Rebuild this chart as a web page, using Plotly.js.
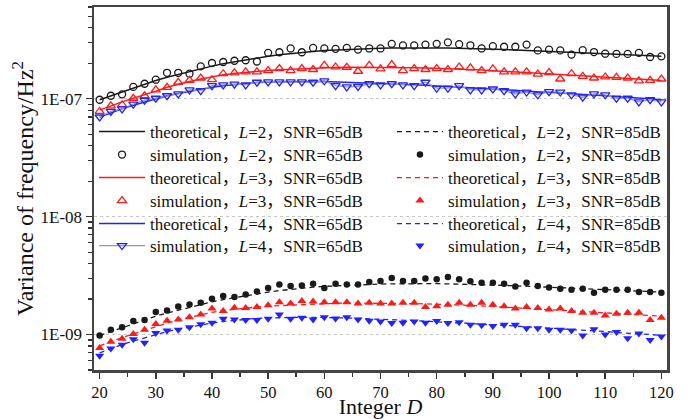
<!DOCTYPE html>
<html>
<head>
<meta charset="utf-8">
<script src="https://cdn.plot.ly/plotly-3.0.1.min.js"></script>
<style>html,body{margin:0;padding:0;background:#fff;}#chart{width:694px;height:419px;}</style>
</head>
<body>
<div id="chart"></div>
<script>
// Integer D values
const D = [20,22,24,26,28,30,32,34,36,38,40,42,44,46,48,50,52,54,56,58,60,62,64,66,68,70,72,74,76,78,80,82,84,86,88,90,92,94,96,98,100,102,104,106,108,110,112,114,116,118,120];

// SNR = 65 dB, values in units of 1E-07
const theoL2_65 = [0.98,1.06,1.14,1.23,1.33,1.43,1.52,1.61,1.70,1.80,1.89,1.98,2.06,2.14,2.22,2.29,2.36,2.42,2.47,2.52,2.56,2.59,2.62,2.64,2.66,2.68,2.69,2.70,2.70,2.70,2.70,2.69,2.68,2.67,2.65,2.63,2.61,2.59,2.57,2.55,2.52,2.50,2.48,2.45,2.43,2.41,2.38,2.36,2.34,2.31,2.29];
const simL2_65  = [0.98,1.06,1.09,1.26,1.34,1.45,1.66,1.66,1.63,1.88,2.01,2.05,2.10,2.12,2.07,2.45,2.48,2.67,2.48,2.70,2.67,2.65,2.70,2.61,2.67,2.67,2.92,2.83,2.83,2.88,2.92,3.01,2.90,2.84,2.67,2.79,2.76,2.76,2.88,2.57,2.61,2.57,2.37,2.58,2.49,2.41,2.40,2.40,2.45,2.26,2.29];
const theoL3_65 = [0.80,0.87,0.94,1.01,1.09,1.16,1.25,1.33,1.40,1.47,1.54,1.60,1.64,1.68,1.71,1.74,1.76,1.78,1.80,1.82,1.83,1.84,1.85,1.85,1.85,1.85,1.84,1.84,1.83,1.82,1.81,1.80,1.78,1.77,1.75,1.73,1.71,1.69,1.67,1.65,1.63,1.61,1.59,1.57,1.55,1.53,1.51,1.49,1.47,1.45,1.43];
const simL3_65  = [0.78,0.87,0.89,1.01,1.06,1.19,1.25,1.38,1.43,1.50,1.45,1.63,1.66,1.69,1.69,1.73,1.80,1.73,1.80,1.77,1.92,1.86,1.85,1.71,1.92,1.79,1.95,1.73,1.80,1.77,1.80,1.77,1.86,1.83,1.73,1.79,1.69,1.69,1.69,1.62,1.67,1.47,1.63,1.55,1.50,1.53,1.52,1.50,1.42,1.43,1.47];
const theoL4_65 = [0.70,0.76,0.82,0.88,0.94,1.00,1.06,1.11,1.16,1.21,1.25,1.29,1.32,1.35,1.37,1.38,1.39,1.40,1.40,1.40,1.40,1.39,1.38,1.37,1.36,1.35,1.34,1.32,1.31,1.30,1.28,1.27,1.25,1.24,1.22,1.21,1.19,1.18,1.16,1.15,1.13,1.12,1.10,1.09,1.07,1.06,1.04,1.03,1.01,1.00,0.98];
const simL4_65  = [0.70,0.78,0.82,0.90,0.97,1.01,1.06,1.10,1.19,1.17,1.29,1.31,1.33,1.31,1.38,1.39,1.39,1.39,1.39,1.38,1.42,1.29,1.26,1.27,1.34,1.31,1.34,1.31,1.29,1.38,1.23,1.23,1.29,1.19,1.19,1.21,1.17,1.10,1.14,1.08,1.15,1.14,1.08,1.03,1.10,1.08,1.01,1.01,0.94,0.98,0.94];

// SNR = 85 dB, values in units of 1E-09
const theoL2_85 = [0.98,1.06,1.14,1.23,1.33,1.43,1.52,1.61,1.70,1.80,1.89,1.98,2.06,2.14,2.22,2.29,2.36,2.42,2.47,2.52,2.56,2.59,2.62,2.64,2.66,2.68,2.69,2.70,2.70,2.70,2.70,2.69,2.68,2.67,2.65,2.63,2.61,2.59,2.57,2.55,2.52,2.50,2.48,2.45,2.43,2.41,2.38,2.36,2.34,2.31,2.29];
const simL2_85  = [0.98,1.10,1.15,1.30,1.33,1.55,1.60,1.73,1.80,1.86,2.01,2.12,2.08,2.19,2.32,2.48,2.65,2.58,2.61,2.70,2.48,2.70,2.66,2.66,2.79,2.84,3.01,2.84,2.84,2.98,2.94,3.08,2.94,2.83,2.75,2.75,2.70,2.56,2.75,2.58,2.50,2.45,2.40,2.45,2.26,2.40,2.40,2.40,2.29,2.29,2.26];
const theoL3_85 = [0.80,0.87,0.94,1.01,1.09,1.16,1.25,1.33,1.40,1.47,1.54,1.60,1.64,1.68,1.71,1.74,1.76,1.78,1.80,1.82,1.83,1.84,1.85,1.85,1.85,1.85,1.84,1.84,1.83,1.82,1.81,1.80,1.78,1.77,1.75,1.73,1.71,1.69,1.67,1.65,1.63,1.61,1.59,1.57,1.55,1.53,1.51,1.49,1.47,1.45,1.43];
const simL3_85  = [0.77,0.87,0.92,1.01,1.10,1.23,1.31,1.34,1.40,1.48,1.66,1.58,1.69,1.68,1.71,1.77,1.88,1.83,1.92,1.91,1.88,1.88,1.88,1.83,1.86,1.83,1.83,1.86,1.86,1.71,1.74,1.79,1.86,1.79,1.86,1.79,1.74,1.66,1.71,1.68,1.63,1.66,1.58,1.53,1.53,1.45,1.50,1.53,1.53,1.33,1.39];
const theoL4_85 = [0.70,0.76,0.82,0.88,0.94,1.00,1.06,1.11,1.16,1.21,1.25,1.29,1.32,1.35,1.37,1.38,1.39,1.40,1.40,1.40,1.40,1.39,1.38,1.37,1.36,1.35,1.34,1.32,1.31,1.30,1.28,1.27,1.25,1.24,1.22,1.21,1.19,1.18,1.16,1.15,1.13,1.12,1.10,1.09,1.07,1.06,1.04,1.03,1.01,1.00,0.98];
const simL4_85  = [0.66,0.76,0.82,0.91,0.85,1.03,1.08,1.10,1.15,1.22,1.26,1.36,1.34,1.33,1.33,1.36,1.48,1.36,1.39,1.34,1.40,1.37,1.40,1.34,1.31,1.29,1.25,1.26,1.29,1.26,1.30,1.25,1.27,1.21,1.20,1.18,1.21,1.21,1.13,1.13,1.10,1.10,1.08,0.98,1.11,1.00,1.05,0.93,1.02,0.90,0.96];

const yTickVals = [1e-9, 1e-8, 1e-7];
const yTickText = ['1E-09', '1E-08', '1E-07'];
const xTickVals = [20,30,40,50,60,70,80,90,100,110,120];

const u65 = 1e-7, u85 = 1e-9;
const s65 = a => a.map(v => v * u65);
const s85 = a => a.map(v => v * u85);

const BLACK = '#1a1a1a', RED = '#ff1a1a', BLUE = '#2222ff';
const lbl = (kind, L, snr) => kind + '，<i>L</i>=' + L + '，SNR=' + snr + 'dB';

const traces = [
  {x: D, y: s65(theoL2_65), mode: 'lines', line: {color: BLACK, width: 1.5}, name: lbl('theoretical', 2, 65), legend: 'legend'},
  {x: D, y: s65(simL2_65), mode: 'markers', marker: {symbol: 'circle-open', size: 7, color: BLACK, line: {width: 1.3}}, name: lbl('simulation', 2, 65), legend: 'legend3'},
  {x: D, y: s65(theoL3_65), mode: 'lines', line: {color: RED, width: 1.5}, name: lbl('theoretical', 3, 65), legend: 'legend5'},
  {x: D, y: s65(simL3_65), mode: 'markers', marker: {symbol: 'triangle-up-open', size: 8, color: RED, line: {width: 1.3}}, name: lbl('simulation', 3, 65), legend: 'legend7'},
  {x: D, y: s65(theoL4_65), mode: 'lines', line: {color: BLUE, width: 1.5}, name: lbl('theoretical', 4, 65), legend: 'legend9'},
  {x: D, y: s65(simL4_65), mode: 'lines+markers', line: {color: '#9a9a9a', width: 1.3}, marker: {symbol: 'triangle-down-open', size: 8, color: BLUE, line: {width: 1.3}}, name: lbl('simulation', 4, 65), legend: 'legend11'},

  {x: D, y: s85(theoL2_85), mode: 'lines', line: {color: BLACK, width: 1.3, dash: '5px,4px'}, name: lbl('theoretical', 2, 85), legend: 'legend2'},
  {x: D, y: s85(simL2_85), mode: 'markers', marker: {symbol: 'circle', size: 6.5, color: BLACK}, name: lbl('simulation', 2, 85), legend: 'legend4'},
  {x: D, y: s85(theoL3_85), mode: 'lines', line: {color: RED, width: 1.3, dash: '5px,4px'}, name: lbl('theoretical', 3, 85), legend: 'legend6'},
  {x: D, y: s85(simL3_85), mode: 'markers', marker: {symbol: 'triangle-up', size: 8, color: RED}, name: lbl('simulation', 3, 85), legend: 'legend8'},
  {x: D, y: s85(theoL4_85), mode: 'lines', line: {color: BLUE, width: 1.3, dash: '5px,4px'}, name: lbl('theoretical', 4, 85), legend: 'legend10'},
  {x: D, y: s85(simL4_85), mode: 'markers', marker: {symbol: 'triangle-down', size: 8, color: BLUE}, name: lbl('simulation', 4, 85), legend: 'legend12'}
];

const minorY = [];
for (let e = -10; e <= -7; e++) for (let k = 2; k <= 9; k++) minorY.push(k * Math.pow(10, e));

const FONT = '"Liberation Serif", "Noto Sans CJK SC", serif';

// legend grid: two columns, six rows
const legendRowY = [0.6556, 0.5923, 0.5289, 0.4656, 0.4022, 0.3416];
const legendColX = [0.0, 0.52];

const layout = {
  width: 694, height: 419,
  margin: {l: 94, r: 27, t: 7, b: 49},
  paper_bgcolor: '#fff', plot_bgcolor: '#fff',
  font: {family: FONT, color: '#111'},
  showlegend: true,
  xaxis: {
    range: [19, 121],
    tickmode: 'array', tickvals: xTickVals,
    ticks: 'outside', ticklen: 6, tickwidth: 1.5, tickcolor: '#333',
    minor: {dtick: 5, tick0: 0, ticks: 'outside', ticklen: 4, tickwidth: 1.5, tickcolor: '#333'},
    showline: true, linecolor: '#444', linewidth: 2.5, mirror: true,
    showgrid: false, zeroline: false,
    tickfont: {family: FONT, size: 16.5, color: '#111'},
    title: {text: 'Integer <i>D</i>', font: {family: FONT, size: 22, color: '#111'}, standoff: 1}
  },
  yaxis: {
    type: 'log',
    range: [Math.log10(5e-10), Math.log10(6e-7)],
    tickmode: 'array', tickvals: yTickVals, ticktext: yTickText,
    ticks: 'outside', ticklen: 6, tickwidth: 1.5, tickcolor: '#333',
    minor: {tickmode: 'array', tickvals: minorY, ticks: 'outside', ticklen: 4, tickwidth: 1.2, tickcolor: '#333', showgrid: false},
    showline: true, linecolor: '#444', linewidth: 2.5, mirror: true,
    showgrid: true, gridcolor: '#c8c8c8', griddash: 'dot', gridwidth: 1,
    zeroline: false,
    tickfont: {family: FONT, size: 17, color: '#111'},
    title: {text: 'Variance of frequency/Hz<sup>2</sup>', font: {family: FONT, size: 24, color: '#111'}, standoff: 0}
  }
};

for (let r = 0; r < 6; r++) {
  for (let c = 0; c < 2; c++) {
    const n = r * 2 + c + 1;
    const key = n === 1 ? 'legend' : 'legend' + n;
    layout[key] = {
      font: {family: FONT, size: 17, color: '#111'},
      bgcolor: 'rgba(0,0,0,0)', borderwidth: 0,
      itemwidth: 46,
      x: legendColX[c], y: legendRowY[r],
      xanchor: 'left', yanchor: 'middle'
    };
  }
}

Plotly.newPlot('chart', traces, layout, {displayModeBar: false, staticPlot: true});
</script>
</body>
</html>
